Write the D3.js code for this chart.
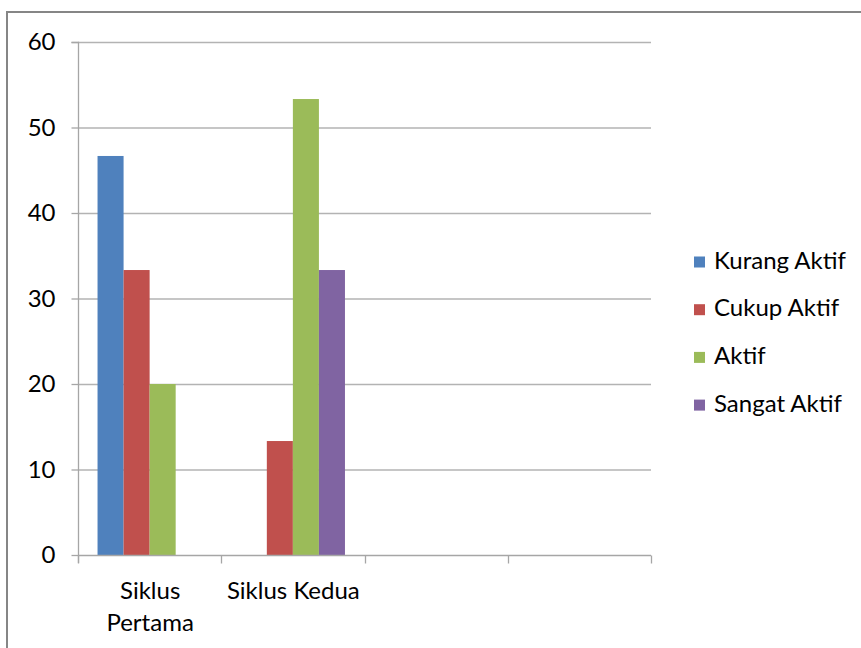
<!DOCTYPE html>
<html><head><meta charset="utf-8">
<script src="https://cdn.jsdelivr.net/npm/d3@7/dist/d3.min.js"></script>
<style>body{margin:0;background:#fff}svg{display:block}text{font-family:Lato,"Open Sans",sans-serif;fill:#000}</style>
</head><body><svg id="c" width="861" height="648"></svg>
<script>
const categories = ["Siklus Pertama", "Siklus Kedua", "", ""];
const seriesNames = ["Kurang Aktif", "Cukup Aktif", "Aktif", "Sangat Aktif"];
const seriesColors = ["#4f81bd", "#c0504d", "#9bbb59", "#8064a2"];
const kurangAktif = [46.67, 0, null, null];
const cukupAktif = [33.33, 13.33, null, null];
const aktif = [20, 53.33, null, null];
const sangatAktif = [0, 33.33, null, null];
const yTicks = [0, 10, 20, 30, 40, 50, 60];

const seriesValues = [kurangAktif, cukupAktif, aktif, sangatAktif];
const FS = 24;
const svg = d3.select("#c");
// outer frame
svg.append("rect").attr("x", 7).attr("y", 12).attr("width", 900).attr("height", 700)
  .attr("fill", "none").attr("stroke", "#868686").attr("stroke-width", 2);

const L = 78, R = 651, T = 42, B = 555;
const x = d3.scaleBand().domain(d3.range(categories.length)).range([L, R]).paddingInner(0).paddingOuter(0);
const y = d3.scaleLinear().domain([0, 60]).range([B, T]);
const bw = x.bandwidth() / 5.5;
const xs = d3.scaleBand().domain(d3.range(seriesNames.length)).range([0.75 * bw, 4.75 * bw]).padding(0);

// gridlines
svg.append("g").selectAll("line").data(yTicks.filter(t => t > 0)).join("line")
  .attr("x1", L).attr("x2", R).attr("y1", d => y(d) + 0.5).attr("y2", d => y(d) + 0.5)
  .attr("stroke", "#b3b3b3").attr("stroke-width", 1.3);

// y axis
const ya = svg.append("g").attr("transform", `translate(${L + 0.5},0)`)
  .call(d3.axisLeft(y).tickValues(yTicks).tickSize(7).tickPadding(16));
ya.select(".domain").attr("stroke", "#a6a6a6").attr("stroke-width", 1.3).attr("d", `M-7,${T + 0.5}H0V${B + 8}`);
ya.selectAll(".tick line").attr("stroke", "#a6a6a6").attr("stroke-width", 1.3);
ya.selectAll(".tick text").attr("font-size", FS).attr("font-family", "Lato,sans-serif").attr("fill", "#000");

// bars
seriesValues.forEach((vals, si) => {
  svg.append("g").selectAll("rect").data(vals.map((v, i) => ({ v, i })).filter(d => d.v))
    .join("rect")
    .attr("x", d => x(d.i) + xs(si)).attr("width", xs.bandwidth())
    .attr("y", d => y(d.v)).attr("height", d => y(0) - y(d.v))
    .attr("fill", seriesColors[si]);
});

// x axis
const xa = svg.append("g").attr("transform", `translate(0,${B + 0.5})`);
xa.append("line").attr("x1", L).attr("x2", R).attr("stroke", "#a6a6a6").attr("stroke-width", 1.3);
const bounds = d3.range(categories.length + 1).map(i => L + i * x.bandwidth());
xa.selectAll(".tk").data(bounds).join("line").attr("class", "tk")
  .attr("x1", d => Math.round(d) + 0.5).attr("x2", d => Math.round(d) + 0.5).attr("y1", 0).attr("y2", 8)
  .attr("stroke", "#a6a6a6").attr("stroke-width", 1.3);
categories.forEach((c, i) => {
  if (!c) return;
  const cx = x(i) + x.bandwidth() / 2 + 0.5;
  const t = xa.append("text").attr("font-size", FS).attr("text-anchor", "middle").attr("x", cx);
  t.text(c);
  if (t.node().getComputedTextLength() > x.bandwidth() - 2) {
    t.text(null);
    c.split(" ").forEach((w, k) => t.append("tspan").attr("x", cx).attr("y", 43 + k * 32).text(w));
  } else t.attr("y", 43);
});

// legend
const lg = svg.append("g");
seriesNames.forEach((n, i) => {
  const cy = 262 + i * 47.7;
  lg.append("rect").attr("x", 694).attr("y", cy - 5.5).attr("width", 11).attr("height", 11).attr("fill", seriesColors[i]);
  lg.append("text").attr("x", 714).attr("y", cy + 6.5).attr("font-size", FS).text(n);
});
</script></body></html>
